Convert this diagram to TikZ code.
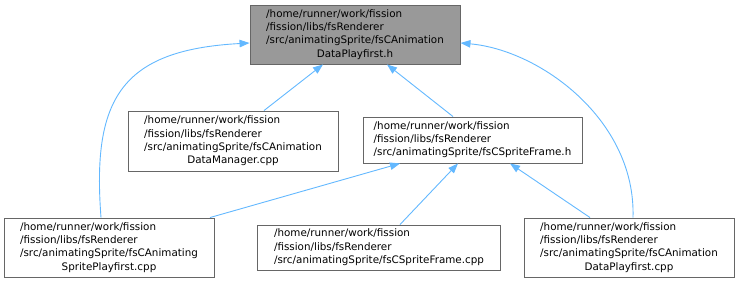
\documentclass[tikz,border=0pt]{standalone}
\usepackage{fontspec}
\setmainfont{DejaVu Sans}
\usetikzlibrary{arrows.meta}
\definecolor{edgeblue}{HTML}{63B8FF}
\definecolor{boxborder}{HTML}{666666}
\definecolor{topfill}{HTML}{999999}
\newcommand{\fourlines}[4]{\begin{tabular}{@{}l@{}}#1\\#2\\#3\\\multicolumn{1}{@{}c@{}}{#4}\end{tabular}}
\newcommand{\threelines}[3]{\begin{tabular}{@{}l@{}}#1\\#2\\#3\end{tabular}}
\begin{document}
\begin{tikzpicture}[x=1pt,y=-1pt,
  filebox/.style={draw=boxborder,fill=white,line width=0.9pt,inner sep=0pt,
    font=\fontsize{10.35}{13.3}\selectfont},
  edge/.style={draw=edgeblue,line width=0.9pt,-{Triangle[length=10pt,width=7.5pt]}}]
\useasboundingbox (0,0) rectangle (740,283);
\node[filebox,fill=topfill,minimum width=210pt,minimum height=59pt] (top) at (355,34.5)
  {\fourlines{/home/runner/work/fission}{/fission/libs/fsRenderer}{/src/animatingSprite/fsCAnimation}{DataPlayfirst.h}};
\node[filebox,minimum width=210pt,minimum height=60pt] (dm) at (233,141)
  {\fourlines{/home/runner/work/fission}{/fission/libs/fsRenderer}{/src/animatingSprite/fsCAnimation}{DataManager.cpp}};
\node[filebox,minimum width=219pt,minimum height=46pt] (sfh) at (472.5,140)
  {\threelines{/home/runner/work/fission}{/fission/libs/fsRenderer}{/src/animatingSprite/fsCSpriteFrame.h}};
\node[filebox,minimum width=210pt,minimum height=59pt] (bl) at (109,247.5)
  {\fourlines{/home/runner/work/fission}{/fission/libs/fsRenderer}{/src/animatingSprite/fsCAnimating}{SpritePlayfirst.cpp}};
\node[filebox,minimum width=243pt,minimum height=45pt] (sfc) at (379,247.5)
  {\threelines{/home/runner/work/fission}{/fission/libs/fsRenderer}{/src/animatingSprite/fsCSpriteFrame.cpp}};
\node[filebox,minimum width=210pt,minimum height=59pt] (br) at (629,247.5)
  {\fourlines{/home/runner/work/fission}{/fission/libs/fsRenderer}{/src/animatingSprite/fsCAnimation}{DataPlayfirst.cpp}};
% edges
\draw[edge] ([xshift=31pt]dm.north) -- ([xshift=-32pt]top.south);
\draw[edge] ([xshift=-19.5pt]sfh.north) -- ([xshift=32pt]top.south);
\draw[edge] ([xshift=-8pt]bl.north) .. controls (92,100) and (120,50) .. ([yshift=-8.5pt]top.west);
\draw[edge] ([xshift=4pt]br.north) .. controls (636,120) and (540,50) .. ([yshift=-8.5pt]top.east);
\draw[edge] ([xshift=101pt]bl.north) -- ([xshift=-72.5pt]sfh.south);
\draw[edge] ([xshift=21pt]sfc.north) -- ([xshift=-14.5pt]sfh.south);
\draw[edge] ([xshift=-39pt]br.north) -- ([xshift=37.5pt]sfh.south);
\end{tikzpicture}
\end{document}
